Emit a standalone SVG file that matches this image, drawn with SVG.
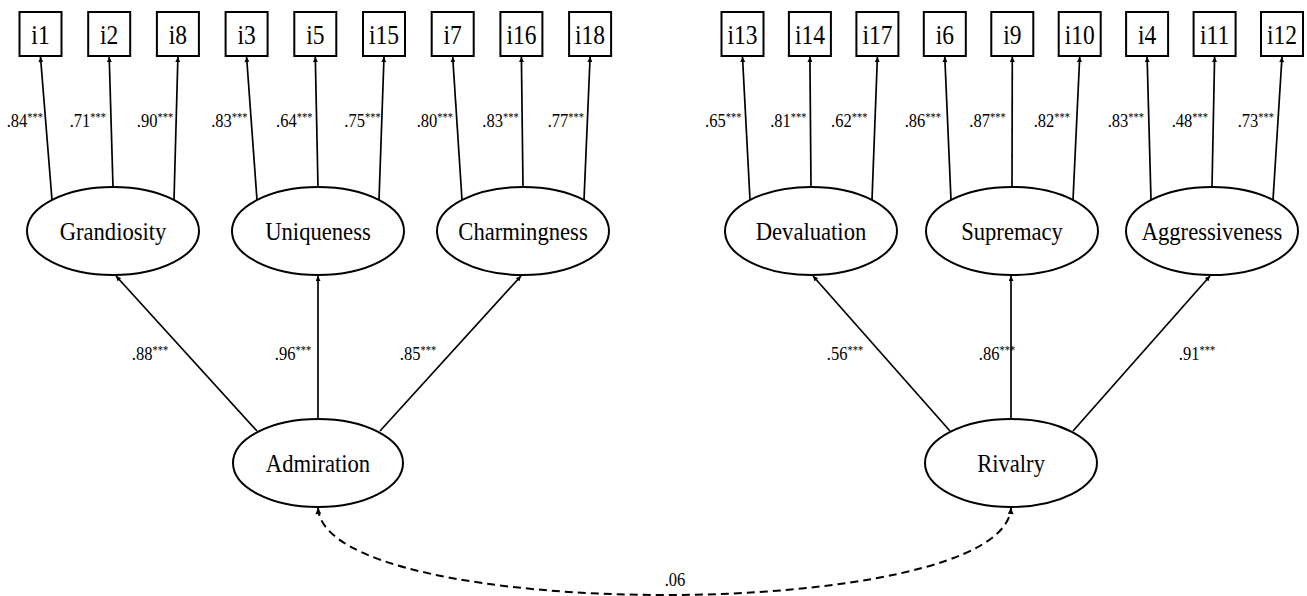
<svg xmlns="http://www.w3.org/2000/svg" width="1307" height="596" viewBox="0 0 1307 596" font-family="'Liberation Serif', 'DejaVu Serif', serif">
<style>
  text { font-family: "Liberation Serif", "DejaVu Serif", serif; fill: #000; transform-box: fill-box; transform-origin: center; transform: scaleX(0.87); }
  .box { fill: #fff; stroke: #000; stroke-width: 2; }
  .lat { fill: #fff; stroke: #000; stroke-width: 2; }
  .item { font-size: 27px; text-anchor: middle; }
  .name { font-size: 26px; text-anchor: middle; }
  .ld { font-size: 19px; text-anchor: middle; }
  .st { font-size: 12px; }
  .path { stroke: #000; stroke-width: 1.7; fill: none; marker-end: url(#arr); }
  .cov { stroke: #000; stroke-width: 2; fill: none; stroke-dasharray: 8 5; marker-start: url(#arr2); marker-end: url(#arr2); }
</style>
<defs>
  <marker id="arr" viewBox="0 0 10 10" refX="10" refY="5" markerUnits="userSpaceOnUse" markerWidth="6" markerHeight="5" orient="auto">
    <path d="M0,0 L10,5 L0,10 z" fill="#000"/>
  </marker>
  <marker id="arr2" viewBox="0 0 10 10" refX="10" refY="5" markerUnits="userSpaceOnUse" markerWidth="7" markerHeight="6" orient="auto-start-reverse">
    <path d="M0,0 L10,5 L0,10 z" fill="#000"/>
  </marker>
</defs>
<rect width="1307" height="596" fill="#fff"/>

<g id="connectors">
  <line class="path" x1="52" y1="200" x2="40.5" y2="57"/>
  <line class="path" x1="113" y1="187" x2="109.2" y2="57"/>
  <line class="path" x1="174" y1="200" x2="177.9" y2="57"/>
  <line class="path" x1="257" y1="200" x2="246.6" y2="57"/>
  <line class="path" x1="318" y1="187" x2="315.3" y2="57"/>
  <line class="path" x1="379" y1="200" x2="384" y2="57"/>
  <line class="path" x1="462" y1="200" x2="452.7" y2="57"/>
  <line class="path" x1="523" y1="187" x2="521.4" y2="57"/>
  <line class="path" x1="584" y1="200" x2="590.1" y2="57"/>
  <line class="path" x1="750" y1="200" x2="742.5" y2="57"/>
  <line class="path" x1="811" y1="187" x2="809.9" y2="57"/>
  <line class="path" x1="872" y1="200" x2="877.4" y2="57"/>
  <line class="path" x1="951" y1="200" x2="944.8" y2="57"/>
  <line class="path" x1="1012" y1="187" x2="1012.3" y2="57"/>
  <line class="path" x1="1073" y1="200" x2="1079.7" y2="57"/>
  <line class="path" x1="1151" y1="200" x2="1147.1" y2="57"/>
  <line class="path" x1="1212" y1="187" x2="1214.6" y2="57"/>
  <line class="path" x1="1273" y1="200" x2="1282" y2="57"/>

  <line class="path" x1="257" y1="431" x2="116" y2="276"/>
  <line class="path" x1="318" y1="419" x2="318" y2="276"/>
  <line class="path" x1="380" y1="431" x2="521" y2="276"/>
  <line class="path" x1="950" y1="431" x2="813" y2="276"/>
  <line class="path" x1="1011" y1="419" x2="1011" y2="276"/>
  <line class="path" x1="1073" y1="431" x2="1210" y2="276"/>

  <path class="cov" d="M318,508 C325,624 1004,624 1011,508"/>
</g>

<g id="labels">
  <text class="ld" x="24.8" y="127">.84<tspan class="st" dy="-6">***</tspan></text>
  <text class="ld" x="87.8" y="127">.71<tspan class="st" dy="-6">***</tspan></text>
  <text class="ld" x="155" y="127">.90<tspan class="st" dy="-6">***</tspan></text>
  <text class="ld" x="229.3" y="127">.83<tspan class="st" dy="-6">***</tspan></text>
  <text class="ld" x="294.2" y="127">.64<tspan class="st" dy="-6">***</tspan></text>
  <text class="ld" x="362.5" y="127">.75<tspan class="st" dy="-6">***</tspan></text>
  <text class="ld" x="434.8" y="127">.80<tspan class="st" dy="-6">***</tspan></text>
  <text class="ld" x="500.5" y="127">.83<tspan class="st" dy="-6">***</tspan></text>
  <text class="ld" x="565.8" y="127">.77<tspan class="st" dy="-6">***</tspan></text>
  <text class="ld" x="723.2" y="127">.65<tspan class="st" dy="-6">***</tspan></text>
  <text class="ld" x="788.3" y="127">.81<tspan class="st" dy="-6">***</tspan></text>
  <text class="ld" x="849.2" y="127">.62<tspan class="st" dy="-6">***</tspan></text>
  <text class="ld" x="922.8" y="127">.86<tspan class="st" dy="-6">***</tspan></text>
  <text class="ld" x="987.5" y="127">.87<tspan class="st" dy="-6">***</tspan></text>
  <text class="ld" x="1051.8" y="127">.82<tspan class="st" dy="-6">***</tspan></text>
  <text class="ld" x="1125.8" y="127">.83<tspan class="st" dy="-6">***</tspan></text>
  <text class="ld" x="1189.8" y="127">.48<tspan class="st" dy="-6">***</tspan></text>
  <text class="ld" x="1255.8" y="127">.73<tspan class="st" dy="-6">***</tspan></text>

  <text class="ld" x="150" y="360">.88<tspan class="st" dy="-6">***</tspan></text>
  <text class="ld" x="293" y="360">.96<tspan class="st" dy="-6">***</tspan></text>
  <text class="ld" x="418" y="360">.85<tspan class="st" dy="-6">***</tspan></text>
  <text class="ld" x="845" y="360">.56<tspan class="st" dy="-6">***</tspan></text>
  <text class="ld" x="997" y="360">.86<tspan class="st" dy="-6">***</tspan></text>
  <text class="ld" x="1197" y="360">.91<tspan class="st" dy="-6">***</tspan></text>

  <text class="ld" x="675" y="586">.06</text>
</g>

<g id="i1"><rect class="box" x="19.5" y="12" width="42" height="44"/><text class="item" x="40.5" y="44">i1</text></g>
<g id="i2"><rect class="box" x="88.2" y="12" width="42" height="44"/><text class="item" x="109.2" y="44">i2</text></g>
<g id="i8"><rect class="box" x="156.9" y="12" width="42" height="44"/><text class="item" x="177.9" y="44">i8</text></g>
<g id="i3"><rect class="box" x="225.6" y="12" width="42" height="44"/><text class="item" x="246.6" y="44">i3</text></g>
<g id="i5"><rect class="box" x="294.3" y="12" width="42" height="44"/><text class="item" x="315.3" y="44">i5</text></g>
<g id="i15"><rect class="box" x="363" y="12" width="42" height="44"/><text class="item" x="384" y="44">i15</text></g>
<g id="i7"><rect class="box" x="431.7" y="12" width="42" height="44"/><text class="item" x="452.7" y="44">i7</text></g>
<g id="i16"><rect class="box" x="500.4" y="12" width="42" height="44"/><text class="item" x="521.4" y="44">i16</text></g>
<g id="i18"><rect class="box" x="569.1" y="12" width="42" height="44"/><text class="item" x="590.1" y="44">i18</text></g>

<g id="i13"><rect class="box" x="721.5" y="12" width="42" height="44"/><text class="item" x="742.5" y="44">i13</text></g>
<g id="i14"><rect class="box" x="788.9" y="12" width="42" height="44"/><text class="item" x="809.9" y="44">i14</text></g>
<g id="i17"><rect class="box" x="856.4" y="12" width="42" height="44"/><text class="item" x="877.4" y="44">i17</text></g>
<g id="i6"><rect class="box" x="923.8" y="12" width="42" height="44"/><text class="item" x="944.8" y="44">i6</text></g>
<g id="i9"><rect class="box" x="991.3" y="12" width="42" height="44"/><text class="item" x="1012.3" y="44">i9</text></g>
<g id="i10"><rect class="box" x="1058.7" y="12" width="42" height="44"/><text class="item" x="1079.7" y="44">i10</text></g>
<g id="i4"><rect class="box" x="1126.1" y="12" width="42" height="44"/><text class="item" x="1147.1" y="44">i4</text></g>
<g id="i11"><rect class="box" x="1193.6" y="12" width="42" height="44"/><text class="item" x="1214.6" y="44">i11</text></g>
<g id="i12"><rect class="box" x="1261" y="12" width="42" height="44"/><text class="item" x="1282" y="44">i12</text></g>

<g id="grandiosity"><ellipse class="lat" cx="113" cy="231" rx="86" ry="44"/><text class="name" x="113" y="240">Grandiosity</text></g>
<g id="uniqueness"><ellipse class="lat" cx="318" cy="231" rx="86" ry="44"/><text class="name" x="318" y="240">Uniqueness</text></g>
<g id="charmingness"><ellipse class="lat" cx="523" cy="231" rx="86" ry="44"/><text class="name" x="523" y="240">Charmingness</text></g>
<g id="devaluation"><ellipse class="lat" cx="811" cy="231" rx="86" ry="44"/><text class="name" x="811" y="240">Devaluation</text></g>
<g id="supremacy"><ellipse class="lat" cx="1012" cy="231" rx="86" ry="44"/><text class="name" x="1012" y="240">Supremacy</text></g>
<g id="aggressiveness"><ellipse class="lat" cx="1212" cy="231" rx="86" ry="44"/><text class="name" x="1212" y="240">Aggressiveness</text></g>

<g id="admiration"><ellipse class="lat" cx="318" cy="463" rx="85" ry="44"/><text class="name" x="318" y="472">Admiration</text></g>
<g id="rivalry"><ellipse class="lat" cx="1011" cy="463" rx="86" ry="44"/><text class="name" x="1011" y="472">Rivalry</text></g>
</svg>
